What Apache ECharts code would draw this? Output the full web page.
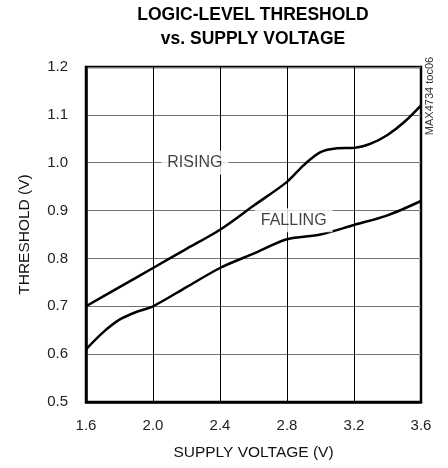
<!DOCTYPE html>
<html>
<head>
<meta charset="utf-8">
<script src="https://cdn.jsdelivr.net/npm/echarts@6/dist/echarts.min.js"></script>
<style>html,body{margin:0;padding:0;background:#fff;}#c{width:448px;height:468px;}</style>
</head>
<body>
<div id="c"></div>
<script>
var xTicks = [1.6, 2.0, 2.4, 2.8, 3.2, 3.6];
var yTicks = [0.5, 0.6, 0.7, 0.8, 0.9, 1.0, 1.1, 1.2];
var risingX = [1.6, 1.8, 2.0, 2.2, 2.4, 2.6, 2.8, 2.9, 3.0, 3.1, 3.2, 3.3, 3.4, 3.5, 3.6];
var risingY = [0.70, 0.74, 0.78, 0.82, 0.86, 0.91, 0.96, 0.995, 1.022, 1.030, 1.031, 1.040, 1.058, 1.085, 1.12];
var fallingX = [1.6, 1.7, 1.8, 1.9, 2.0, 2.2, 2.4, 2.6, 2.8, 3.0, 3.2, 3.4, 3.6];
var fallingY = [0.61, 0.645, 0.672, 0.688, 0.70, 0.74, 0.78, 0.81, 0.84, 0.85, 0.87, 0.89, 0.92];
var labels = [{name: 'RISING', x: 2.25, y: 1.0}, {name: 'FALLING', x: 2.84, y: 0.88}];

var font = '"Liberation Sans", Arial, sans-serif';
function pairs(xs, ys) { return xs.map(function (x, i) { return [x, ys[i]]; }); }

var chart = echarts.init(document.getElementById('c'));
chart.setOption({
  animation: false,
  title: {
    text: 'LOGIC-LEVEL THRESHOLD\nvs. SUPPLY VOLTAGE',
    left: 253, top: 3, textAlign: 'center', padding: 0,
    textStyle: {fontFamily: font, fontSize: 17.5, fontWeight: 'bold', color: '#000', lineHeight: 24}
  },
  grid: {left: 86, right: 27, top: 67, bottom: 66, show: true, borderColor: '#000', borderWidth: 2.5},
  xAxis: {
    type: 'value', min: xTicks[0], max: xTicks[xTicks.length - 1], interval: 0.4,
    name: 'SUPPLY VOLTAGE (V)', nameLocation: 'middle', nameGap: 43,
    nameTextStyle: {fontFamily: font, fontSize: 15.5, color: '#111'},
    axisLine: {show: true, lineStyle: {color: '#000', width: 2.5}},
    axisTick: {show: false},
    axisLabel: {fontFamily: font, fontSize: 15, color: '#222', margin: 16,
      formatter: function (v) { return v.toFixed(1); }},
    splitLine: {show: true, lineStyle: {color: '#000', width: 1}}
  },
  yAxis: {
    type: 'value', min: yTicks[0], max: yTicks[yTicks.length - 1], interval: 0.1,
    name: 'THRESHOLD (V)', nameLocation: 'middle', nameGap: 53,
    nameTextStyle: {fontFamily: font, fontSize: 15.5, color: '#111'},
    axisLine: {show: true, lineStyle: {color: '#000', width: 2.5}},
    axisTick: {show: false},
    axisLabel: {fontFamily: font, fontSize: 15, color: '#222', margin: 18,
      formatter: function (v) { return v.toFixed(1); }},
    splitLine: {show: true, lineStyle: {color: '#707070', width: 1}}
  },
  graphic: [{
    type: 'text', x: 430, y: 96, rotation: Math.PI / 2,
    style: {text: 'MAX4734 toc06', fontFamily: font, fontSize: 11, fill: '#333',
      align: 'center', verticalAlign: 'middle'}
  }],
  series: [{
    type: 'line', name: 'RISING', data: pairs(risingX, risingY), smooth: 0.3,
    showSymbol: false, lineStyle: {color: '#000', width: 2.5}, z: 3
  }, {
    type: 'line', name: 'FALLING', data: pairs(fallingX, fallingY), smooth: 0.3,
    showSymbol: false, lineStyle: {color: '#000', width: 2.5}, z: 3
  }, {
    type: 'scatter', data: labels.map(function (l) { return {name: l.name, value: [l.x, l.y]}; }),
    symbolSize: 0, z: 4, silent: true,
    label: {show: true, position: 'inside', formatter: '{b}', fontFamily: font, fontSize: 16,
      color: '#111', backgroundColor: '#fff', padding: [4, 6, 4, 6]}
  }]
});
</script>
</body>
</html>
